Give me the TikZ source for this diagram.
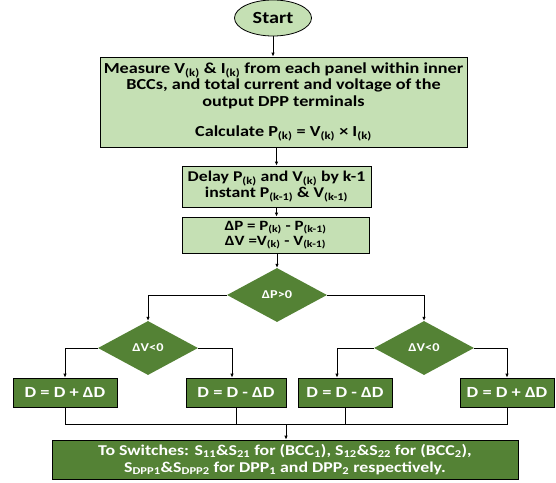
\documentclass[tikz,border=0pt]{standalone}
\usepackage{fontspec}
\setmainfont{Carlito}[FakeStretch=1.19]
\usetikzlibrary{shapes.geometric,arrows.meta,positioning}
\definecolor{boxlight}{HTML}{C5E0B4}
\definecolor{boxdark}{HTML}{548235}
\newcommand{\idx}[1]{\textsubscript{#1}}

\begin{document}
\begin{tikzpicture}[x=1pt,y=-1pt,
    startnode/.style={ellipse, draw, thick, fill=boxlight, minimum width=77pt, minimum height=36pt, font=\bfseries\fontsize{17}{19}\selectfont},
    lightbox/.style={rectangle, draw, thick, fill=boxlight, align=center, inner sep=0pt},
    darkbox/.style={rectangle, draw, thick, fill=boxdark, text=white, align=center, inner sep=0pt, minimum height=29pt},
    decision/.style={diamond, fill=boxdark, text=white, inner sep=0pt, minimum width=100pt, minimum height=54pt, font=\bfseries\fontsize{12}{13}\selectfont},
    line/.style={draw, thick},
    arrow/.style={line, -{Latex[length=4pt,width=3.5pt]}}]
    \useasboundingbox (0,0) rectangle (556,482);

    \node[startnode] (start) at (273,18) {Start};
    \node[lightbox, minimum width=367pt, minimum height=90pt, font=\bfseries\fontsize{15.3}{16.5}\selectfont] (measure) at (283.5,102)
        {Measure V\idx{(k)} \& I\idx{(k)} from each panel within inner\\
         BCCs, and total current and voltage of the\\
         output DPP terminals\\[14pt]
         Calculate P\idx{(k)} = V\idx{(k)} × I\idx{(k)}};
    \node[lightbox, minimum width=189pt, minimum height=41pt, font=\bfseries\fontsize{14.9}{16}\selectfont] (delay) at (276.5,186.5)
        {Delay P\idx{(k)} and V\idx{(k)} by k-1\\ instant P\idx{(k-1)} \& V\idx{(k-1)}};
    \node[lightbox, minimum width=187pt, minimum height=36pt, font=\bfseries\fontsize{14.2}{15}\selectfont] (diff) at (275.5,235)
        {ΔP = P\idx{(k)} - P\idx{(k-1)}\\ ΔV =V\idx{(k)} - V\idx{(k-1)}};

    \node[decision] (dp)  at (277,295) {ΔP>0};
    \node[decision] (dvl) at (148,348) {ΔV<0};
    \node[decision] (dvr) at (424,348) {ΔV<0};

    \begin{scope}[font=\bfseries\fontsize{15.5}{17}\selectfont]
    \node[darkbox, minimum width=104pt] (inc1) at (65,392.5)  {D = D + ΔD};
    \node[darkbox, minimum width=100pt] (dec1) at (236,392.5) {D = D - ΔD};
    \node[darkbox, minimum width=94pt]  (dec2) at (345,392.5) {D = D - ΔD};
    \node[darkbox, minimum width=94pt]  (inc2) at (507,392.5) {D = D + ΔD};
    \end{scope}

    \node[darkbox, minimum width=466pt, minimum height=39pt, font=\bfseries\fontsize{15}{16.5}\selectfont] (switch) at (285,459.5)
        {To Switches: S\idx{11}\&S\idx{21} for (BCC\idx{1}), S\idx{12}\&S\idx{22} for (BCC\idx{2}),\\
         S\idx{DPP1}\&S\idx{DPP2} for DPP\idx{1} and DPP\idx{2} respectively.};
    \coordinate (join) at (286,424);

    % main chain
    \draw[arrow] (start.south) -- (start.south |- measure.north);
    \draw[arrow] (delay.north |- measure.south) -- (delay.north);
    \draw[arrow] (delay.south) -- (delay.south |- diff.north);
    \draw[arrow] (dp.north |- diff.south) -- (dp.north);

    % decisions
    \draw[arrow] (dp.west) -| (dvl.north);
    \draw[arrow] (dp.east) -| (dvr.north);
    \draw[arrow] (dvl.west) -| (inc1.north);
    \draw[arrow] (dvl.east) -| ([xshift=-4pt]dec1.north);
    \draw[arrow] (dvr.west) -| ([xshift=-8pt]dec2.north);
    \draw[arrow] (dvr.east) -| (inc2.north);

    % collect
    \draw[line] (inc1.south) |- (join);
    \draw[line] (inc2.south) |- (join);
    \draw[line] (dec1.south) -- (dec1.south |- join);
    \draw[line] (dec2.south) -- (dec2.south |- join);
    \draw[arrow] (join) -- (join |- switch.north);
\end{tikzpicture}
\end{document}
